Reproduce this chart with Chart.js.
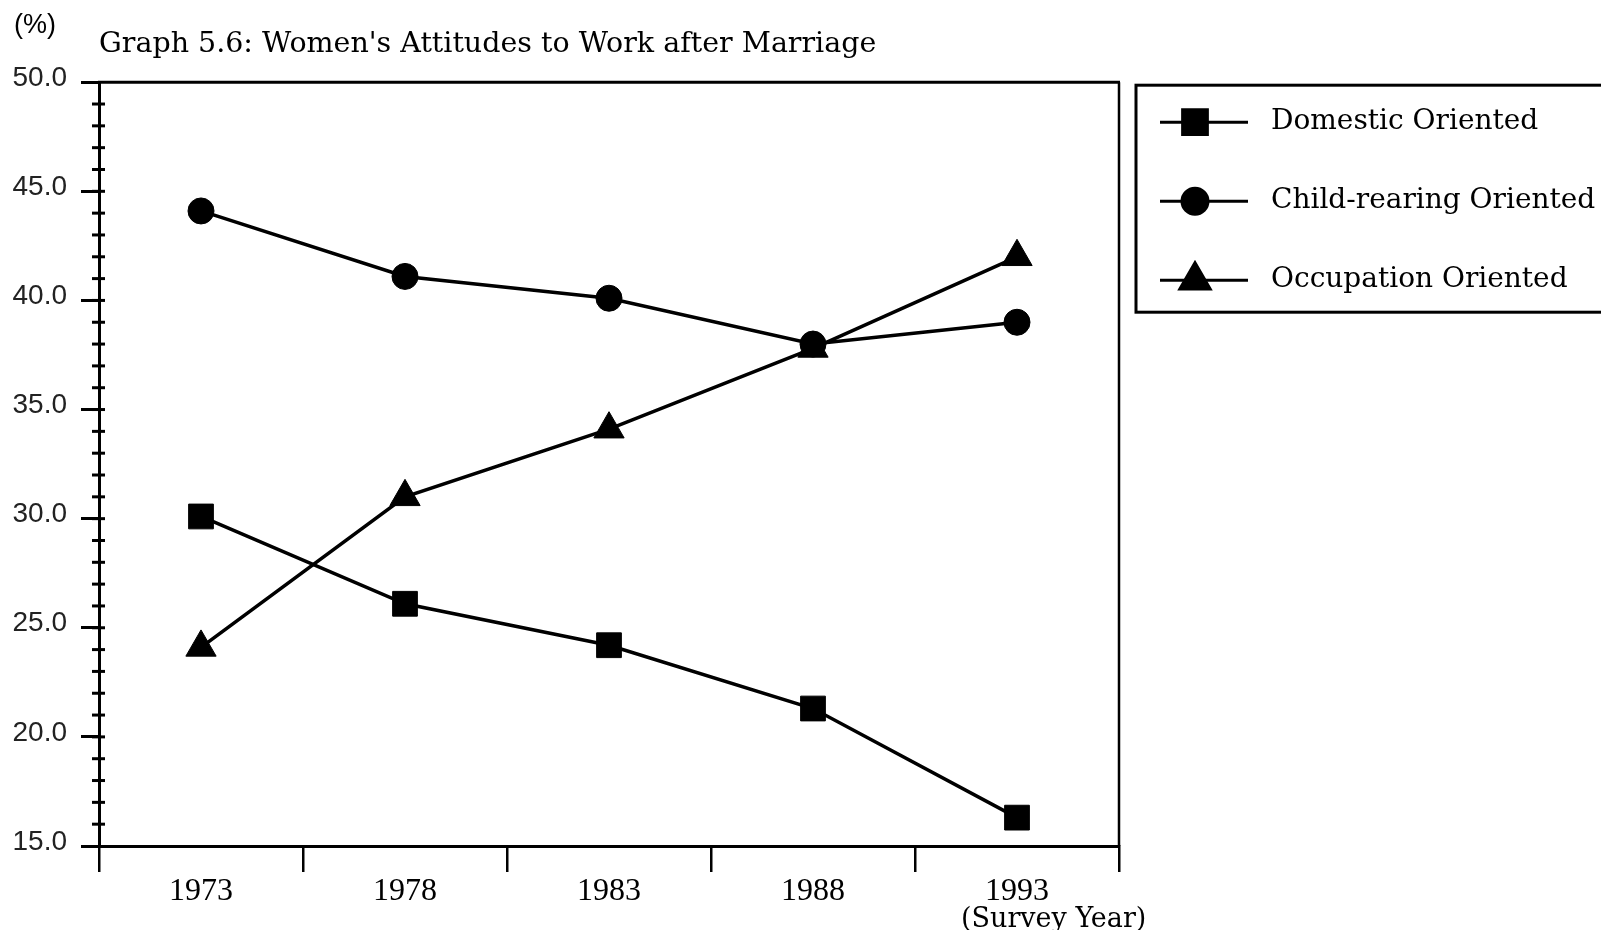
<!DOCTYPE html>
<html><head><meta charset="utf-8">
<script src="https://cdn.jsdelivr.net/npm/chart.js@4.4.1/dist/chart.umd.min.js"></script>
<style>html,body{margin:0;padding:0;background:#fff;overflow:hidden}</style>
</head><body>
<canvas id="c" width="1601" height="930"></canvas>
<script>
const years = ['1973', '1978', '1983', '1988', '1993'];
const domestic = [30.1, 26.1, 24.2, 21.3, 16.3];
const childRearing = [44.1, 41.1, 40.1, 38.0, 39.0];
const occupation = [24.1, 31.0, 34.1, 37.8, 42.0];
const seriesNames = ['Domestic Oriented', 'Child-rearing Oriented', 'Occupation Oriented'];
const chartTitle = 'Graph 5.6: Women\'s Attitudes to Work after Marriage';
const unitLabel = '(%)';
const xAxisTitle = '(Survey Year)';
const yMin = 15, yMax = 50, yStep = 5;

const decor = {
  id: 'decor',
  afterDraw(chart) {
    const {ctx, chartArea: a, scales: {x, y}} = chart;
    ctx.save();
    ctx.strokeStyle = '#000';
    ctx.lineCap = 'butt';
    ctx.lineWidth = 3;
    ctx.beginPath(); ctx.moveTo(a.left - 1, a.top); ctx.lineTo(a.right + 1, a.top); ctx.stroke();
    ctx.lineWidth = 2.5;
    ctx.beginPath(); ctx.moveTo(a.right, a.top); ctx.lineTo(a.right, a.bottom); ctx.stroke();
    ctx.lineWidth = 3;
    for (let v = yMin + 1; v < yMax; v++) {
      const py = y.getPixelForValue(v);
      ctx.beginPath(); ctx.moveTo(a.left - 7, py); ctx.lineTo(a.left + 6, py); ctx.stroke();
    }
    ctx.fillStyle = '#000';
    ctx.font = '27px "Liberation Sans"';
    ctx.textBaseline = 'middle';
    ctx.textAlign = 'left';
    ctx.fillText(unitLabel, 14, 26);

    // x-axis title under the last year
    ctx.font = '27px "DejaVu Serif"';
    ctx.fillText(xAxisTitle, x.getPixelForValue(years.length - 1) - 56, a.bottom + 74);

    // legend box
    const bx = a.right + 17, by = a.top + 3;
    ctx.lineWidth = 3;
    ctx.strokeRect(bx, by, 520, 227);
    chart.data.datasets.forEach((ds, i) => {
      const ry = by + 37 + i * 79;
      ctx.lineWidth = 3;
      ctx.beginPath(); ctx.moveTo(bx + 24, ry); ctx.lineTo(bx + 112, ry); ctx.stroke();
      ctx.fillStyle = '#000';
      Chart.helpers.drawPoint(ctx, {pointStyle: ds.pointStyle, radius: ds.pointRadius, borderWidth: 1, rotation: 0}, bx + 59, ry);
      ctx.fillStyle = '#000';
      ctx.font = '28px "DejaVu Serif"';
      ctx.textBaseline = 'middle';
      ctx.fillText(ds.label, bx + 135, ry);
    });
    ctx.restore();
  }
};

const mk = (label, data, style, r) => ({
  label, data,
  borderColor: '#000', backgroundColor: '#000', borderWidth: 3.5,
  pointStyle: style, pointRadius: r, pointHoverRadius: r,
  pointBackgroundColor: '#000', pointBorderColor: '#000', pointBorderWidth: 1,
  tension: 0, fill: false
});

new Chart(document.getElementById('c'), {
  type: 'line',
  data: {
    labels: years,
    datasets: [
      mk(seriesNames[0], domestic, 'rect', 17.5),
      mk(seriesNames[1], childRearing, 'circle', 13),
      mk(seriesNames[2], occupation, 'triangle', 17.5)
    ]
  },
  options: {
    responsive: false,
    animation: false,
    events: [],
    layout: {padding: {left: 0, right: 482, top: 0, bottom: 0}},
    plugins: {
      legend: {display: false},
      tooltip: {enabled: false},
      title: {
        display: true, text: chartTitle, align: 'start', fullSize: false,
        color: '#000', font: {family: 'DejaVu Serif', size: 28.5, weight: 'normal'},
        padding: {top: 27, bottom: 21}
      }
    },
    scales: {
      x: {
        type: 'category', offset: true,
        grid: {offset: true, drawOnChartArea: false, tickLength: 26, lineWidth: 2.5, color: '#000'},
        border: {display: true, width: 3, color: '#000'},
        ticks: {color: '#000', font: {family: 'Liberation Serif', size: 32}, padding: 0, maxRotation: 0},
        afterFit(s) { s.height = 84; }
      },
      y: {
        min: yMin, max: yMax,
        grid: {drawOnChartArea: false, tickLength: 18, lineWidth: 3, color: '#000'},
        border: {display: true, width: 3, color: '#000'},
        ticks: {stepSize: yStep, color: '#222', font: {family: 'Liberation Sans', size: 28}, padding: 14, labelOffset: -4, callback: v => Number(v).toFixed(1)},
        afterFit(s) { s.width = 99; }
      }
    }
  },
  plugins: [decor]
});
</script>
</body></html>
